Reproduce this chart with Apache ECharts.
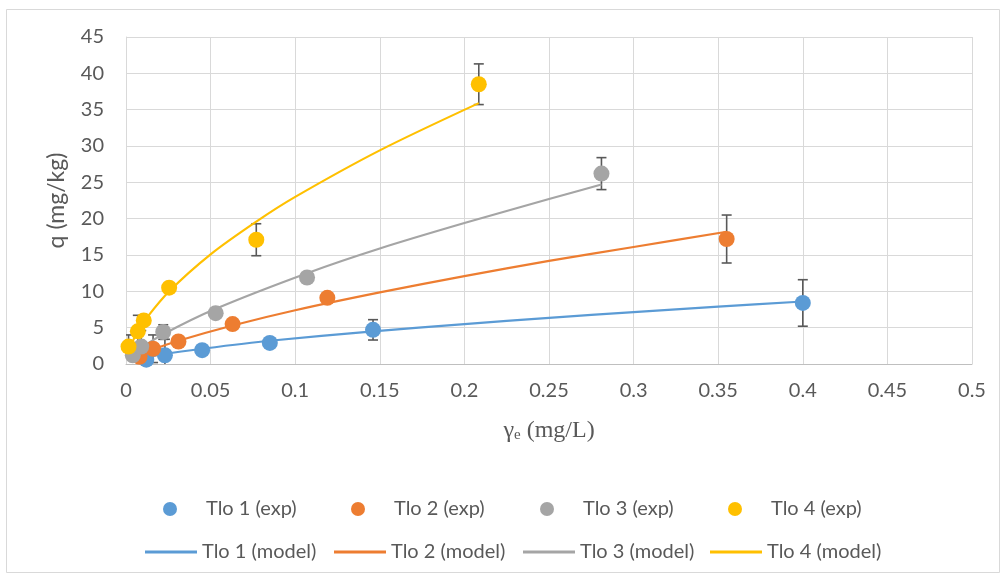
<!DOCTYPE html>
<html>
<head>
<meta charset="utf-8">
<script src="https://cdn.jsdelivr.net/npm/echarts@6/dist/echarts.min.js"></script>
<style>
html,body{margin:0;padding:0;background:#fff;}
#chart{width:1006px;height:575px;}
</style>
</head>
<body>
<div id="chart"></div>
<script>
// ---- data ----
const xTicks = ['0','0.05','0.1','0.15','0.2','0.25','0.3','0.35','0.4','0.45','0.5'];
const yTicks = ['0','5','10','15','20','25','30','35','40','45'];

const names = ['Tlo 1', 'Tlo 2', 'Tlo 3', 'Tlo 4'];
const colors = ['#5B9BD5', '#ED7D31', '#A5A5A5', '#FFC000'];

// experimental points
const exp1X = [0.012, 0.023, 0.045, 0.085, 0.146, 0.400];
const exp1Y = [0.6, 1.2, 1.9, 2.9, 4.7, 8.4];
const exp1E = [0.4, 2.2, 0.3, 0.6, 1.4, 3.2];

const exp2X = [0.008, 0.016, 0.031, 0.063, 0.119, 0.355];
const exp2Y = [1.0, 2.1, 3.1, 5.5, 9.1, 17.2];
const exp2E = [0.5, 1.9, 0.4, 0.5, 0.6, 3.3];

const exp3X = [0.004, 0.009, 0.022, 0.053, 0.107, 0.281];
const exp3Y = [1.2, 2.4, 4.4, 7.0, 11.9, 26.2];
const exp3E = [0.5, 2.2, 1.0, 0.5, 0.6, 2.2];

const exp4X = [0.0015, 0.007, 0.0105, 0.0255, 0.077, 0.2085];
const exp4Y = [2.4, 4.5, 6.0, 10.5, 17.1, 38.5];
const exp4E = [1.6, 2.2, 0.6, 0.4, 2.2, 2.8];

// model curves
const mod1X = [0.012, 0.023, 0.045, 0.085, 0.146, 0.2, 0.25, 0.3, 0.35, 0.4];
const mod1Y = [0.9, 1.4, 2.1, 3.2, 4.5, 5.5, 6.35, 7.15, 7.9, 8.6];

const mod2X = [0.006, 0.016, 0.031, 0.063, 0.1, 0.15, 0.2, 0.25, 0.3, 0.355];
const mod2Y = [1.0, 2.0, 3.2, 5.3, 7.4, 9.85, 12.1, 14.2, 16.1, 18.2];

const mod3X = [0.003, 0.009, 0.022, 0.053, 0.107, 0.15, 0.2, 0.25, 0.281];
const mod3Y = [1.0, 2.2, 4.1, 7.6, 12.5, 15.9, 19.4, 22.7, 24.7];

const mod4X = [0.0015, 0.007, 0.0105, 0.0255, 0.05, 0.077, 0.1, 0.15, 0.2085];
const mod4Y = [1.8, 4.6, 5.85, 10.0, 15.1, 19.6, 23.0, 29.4, 35.9];

// ---- build ----
const expX = [exp1X, exp2X, exp3X, exp4X];
const expY = [exp1Y, exp2Y, exp3Y, exp4Y];
const expE = [exp1E, exp2E, exp3E, exp4E];
const modX = [mod1X, mod2X, mod3X, mod4X];
const modY = [mod1Y, mod2Y, mod3Y, mod4Y];

const FONT = 'Lato, sans-serif';
const TXT = '#595959';

const series = [];
for (let i = 0; i < 4; i++) {
  series.push({
    name: names[i] + ' (exp) err',
    type: 'custom',
    clip: true,
    z: 2,
    silent: true,
    encode: {x: 0, y: 1},
    data: expX[i].map((x, k) => [x, expY[i][k], expE[i][k]]),
    renderItem: function (params, api) {
      const x = api.value(0), y = api.value(1), e = api.value(2);
      const t = api.coord([x, y + e]);
      const b = api.coord([x, y - e]);
      const w = 5;
      const st = {stroke: '#595959', lineWidth: 1.6};
      return {
        type: 'group',
        children: [
          {type: 'line', shape: {x1: t[0], y1: t[1], x2: b[0], y2: b[1]}, style: st},
          {type: 'line', shape: {x1: t[0] - w, y1: t[1], x2: t[0] + w, y2: t[1]}, style: st},
          {type: 'line', shape: {x1: b[0] - w, y1: b[1], x2: b[0] + w, y2: b[1]}, style: st}
        ]
      };
    }
  });
}
for (let i = 0; i < 4; i++) {
  series.push({
    name: names[i] + ' (model)',
    type: 'line',
    smooth: 0.3,
    symbol: 'none',
    z: 3,
    lineStyle: {color: colors[i], width: 2.2},
    itemStyle: {color: colors[i]},
    data: modX[i].map((x, k) => [x, modY[i][k]])
  });
}
for (let i = 0; i < 4; i++) {
  series.push({
    name: names[i] + ' (exp)',
    type: 'scatter',
    symbol: 'circle',
    symbolSize: 16,
    z: 4,
    itemStyle: {color: colors[i], opacity: 1},
    data: expX[i].map((x, k) => [x, expY[i][k]])
  });
}

const legendTS = {color: TXT, fontFamily: FONT, fontSize: 20};
const expLeft = [158, 346, 535, 723];
const modLeft = [140, 329, 518, 705];
const legends = [];
for (let i = 0; i < 4; i++) {
  legends.push({
    data: [names[i] + ' (exp)'],
    left: expLeft[i], top: 494,
    icon: 'circle', itemWidth: 14, itemHeight: 14,
    textStyle: Object.assign({padding: [0, 0, 0, 24]}, legendTS),
    selectedMode: false
  });
  legends.push({
    data: [names[i] + ' (model)'],
    left: modLeft[i], top: 537,
    icon: 'rect', itemWidth: 52, itemHeight: 3,
    itemStyle: {color: colors[i]},
    textStyle: Object.assign({padding: [0, 0, 0, 0]}, legendTS),
    selectedMode: false
  });
}

const chart = echarts.init(document.getElementById('chart'), null, {renderer: 'canvas'});
chart.setOption({
  animation: false,
  backgroundColor: '#fff',
  graphic: [{
    type: 'rect', silent: true, z: -10,
    shape: {x: 6.5, y: 9.5, width: 993, height: 563},
    style: {fill: 'none', stroke: '#d9d9d9', lineWidth: 1}
  }],
  grid: {left: 126, right: 34, top: 37, bottom: 211, containLabel: false},
  legend: legends,
  xAxis: {
    type: 'value', min: 0, max: 0.5, interval: 0.05,
    axisLine: {show: true, lineStyle: {color: '#bfbfbf', width: 1}},
    axisTick: {show: false},
    splitLine: {show: true, lineStyle: {color: '#d9d9d9', width: 1}},
    axisLabel: {
      color: TXT, fontFamily: FONT, fontSize: 20, margin: 17,
      formatter: function (v) { return xTicks[Math.round(v / 0.05)]; }
    },
    name: '{g|γ}{s|e}{g| (mg/L)}',
    nameLocation: 'middle',
    nameGap: 54,
    nameTextStyle: {
      rich: {
        g: {fontFamily: '"Liberation Serif", "DejaVu Serif", serif', fontSize: 24, color: TXT},
        s: {fontFamily: '"Liberation Serif", "DejaVu Serif", serif', fontSize: 15, color: TXT, padding: [10, 0, 0, 0]}
      }
    }
  },
  yAxis: {
    type: 'value', min: 0, max: 45, interval: 5,
    axisLine: {show: true, lineStyle: {color: '#d9d9d9', width: 1}},
    axisTick: {show: false},
    splitLine: {show: true, lineStyle: {color: '#d9d9d9', width: 1}},
    axisLabel: {
      color: TXT, fontFamily: FONT, fontSize: 20, margin: 22,
      formatter: function (v) { return yTicks[Math.round(v / 5)]; }
    },
    name: 'q (mg/kg)',
    nameLocation: 'middle',
    nameGap: 58,
    nameTextStyle: {color: TXT, fontFamily: FONT, fontSize: 23}
  },
  series: series
});
</script>
</body>
</html>
